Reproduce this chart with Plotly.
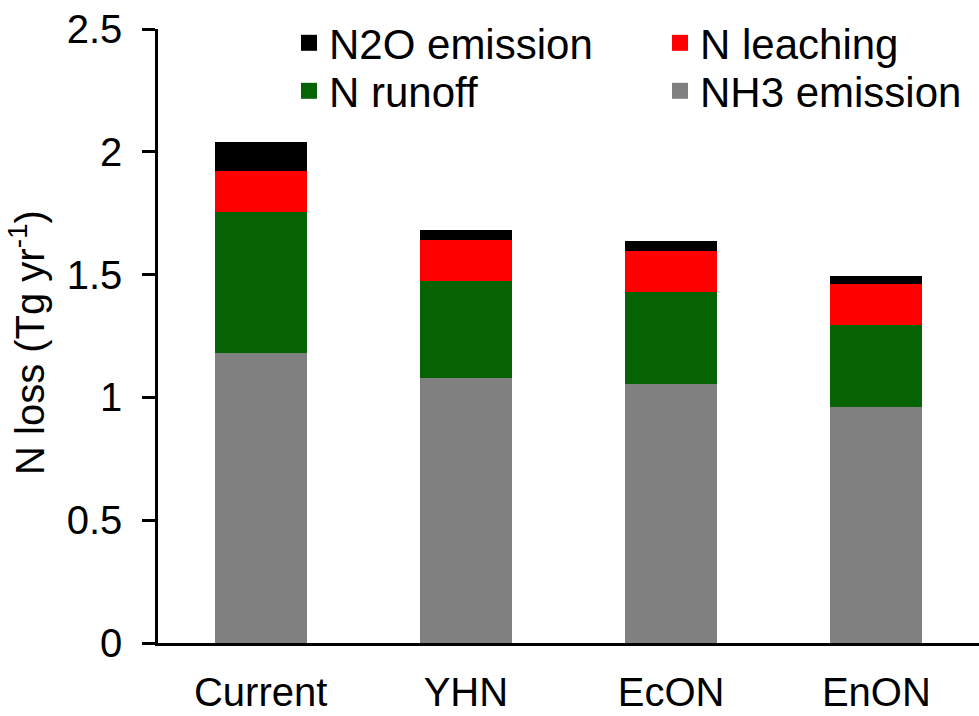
import plotly.graph_objects as go

scenarios = ["Current", "YHN", "EcON", "EnON"]
nh3_emission = [1.179, 1.080, 1.053, 0.959]
n_runoff = [0.577, 0.394, 0.376, 0.334]
n_leaching = [0.167, 0.168, 0.166, 0.169]
n2o_emission = [0.116, 0.041, 0.041, 0.034]

FONT = "Liberation Sans, Arial, sans-serif"
W, H = 979, 716
L, R, T, B = 158, 0, 29, 73

# stacked bottom -> top; each entry gets its own legend box so the 2x2 layout is exact
series = [
    ("NH3 emission", nh3_emission, "#808080", "legend4", (660, 91)),
    ("N runoff", n_runoff, "#056305", "legend3", (289, 91)),
    ("N leaching", n_leaching, "#ff0000", "legend2", (660, 43)),
    ("N2O emission", n2o_emission, "#000000", "legend", (289, 43)),
]

fig = go.Figure()
legends = {}
for name, vals, color, leg, (lx, ly) in series:
    fig.add_trace(
        go.Bar(
            x=scenarios,
            y=vals,
            name=name,
            marker=dict(color=color, line=dict(width=0)),
            showlegend=False,
            hoverinfo="skip",
        )
    )
    # legend-only marker so the key square can be larger than the bar icon
    fig.add_trace(
        go.Scatter(
            x=[None],
            y=[None],
            mode="markers",
            name=name,
            marker=dict(symbol="square", size=17, color=color),
            legend=leg,
            hoverinfo="skip",
        )
    )
    legends[leg] = dict(
        xref="container",
        yref="container",
        x=lx / W,
        y=1 - ly / H,
        xanchor="left",
        yanchor="middle",
        bgcolor="rgba(0,0,0,0)",
        font=dict(family=FONT, size=42, color="black"),
        itemclick=False,
        itemdoubleclick=False,
    )

fig.update_layout(
    width=W,
    height=H,
    barmode="stack",
    bargap=0.552,
    margin=dict(l=L, r=R, t=T, b=B, autoexpand=False),
    paper_bgcolor="white",
    plot_bgcolor="white",
    font=dict(family=FONT, size=40, color="black"),
    showlegend=True,
    xaxis=dict(
        type="category",
        range=[-0.5, 3.5],
        showline=True,
        linecolor="black",
        linewidth=2.5,
        ticks="",
        showgrid=False,
        tickfont=dict(size=40),
        ticklabelstandoff=12,
    ),
    yaxis=dict(
        range=[0, 2.5],
        dtick=0.5,
        showline=True,
        linecolor="black",
        linewidth=2.5,
        ticks="outside",
        ticklen=13,
        tickwidth=2.5,
        tickcolor="black",
        showgrid=False,
        zeroline=False,
        tickfont=dict(size=40),
        ticklabelstandoff=12,
    ),
    annotations=[
        dict(
            text="N loss (Tg yr<sup>-1</sup>)",
            xref="paper",
            yref="paper",
            x=(27 - L) / (W - L - R),
            y=(H - B - 343) / (H - T - B),
            xanchor="center",
            yanchor="middle",
            textangle=-90,
            showarrow=False,
            font=dict(family=FONT, size=40, color="black"),
        )
    ],
    **legends,
)

fig.write_html(
    "out.html",
    config={"displayModeBar": False},
    post_script="document.body.style.margin='0';",
)
